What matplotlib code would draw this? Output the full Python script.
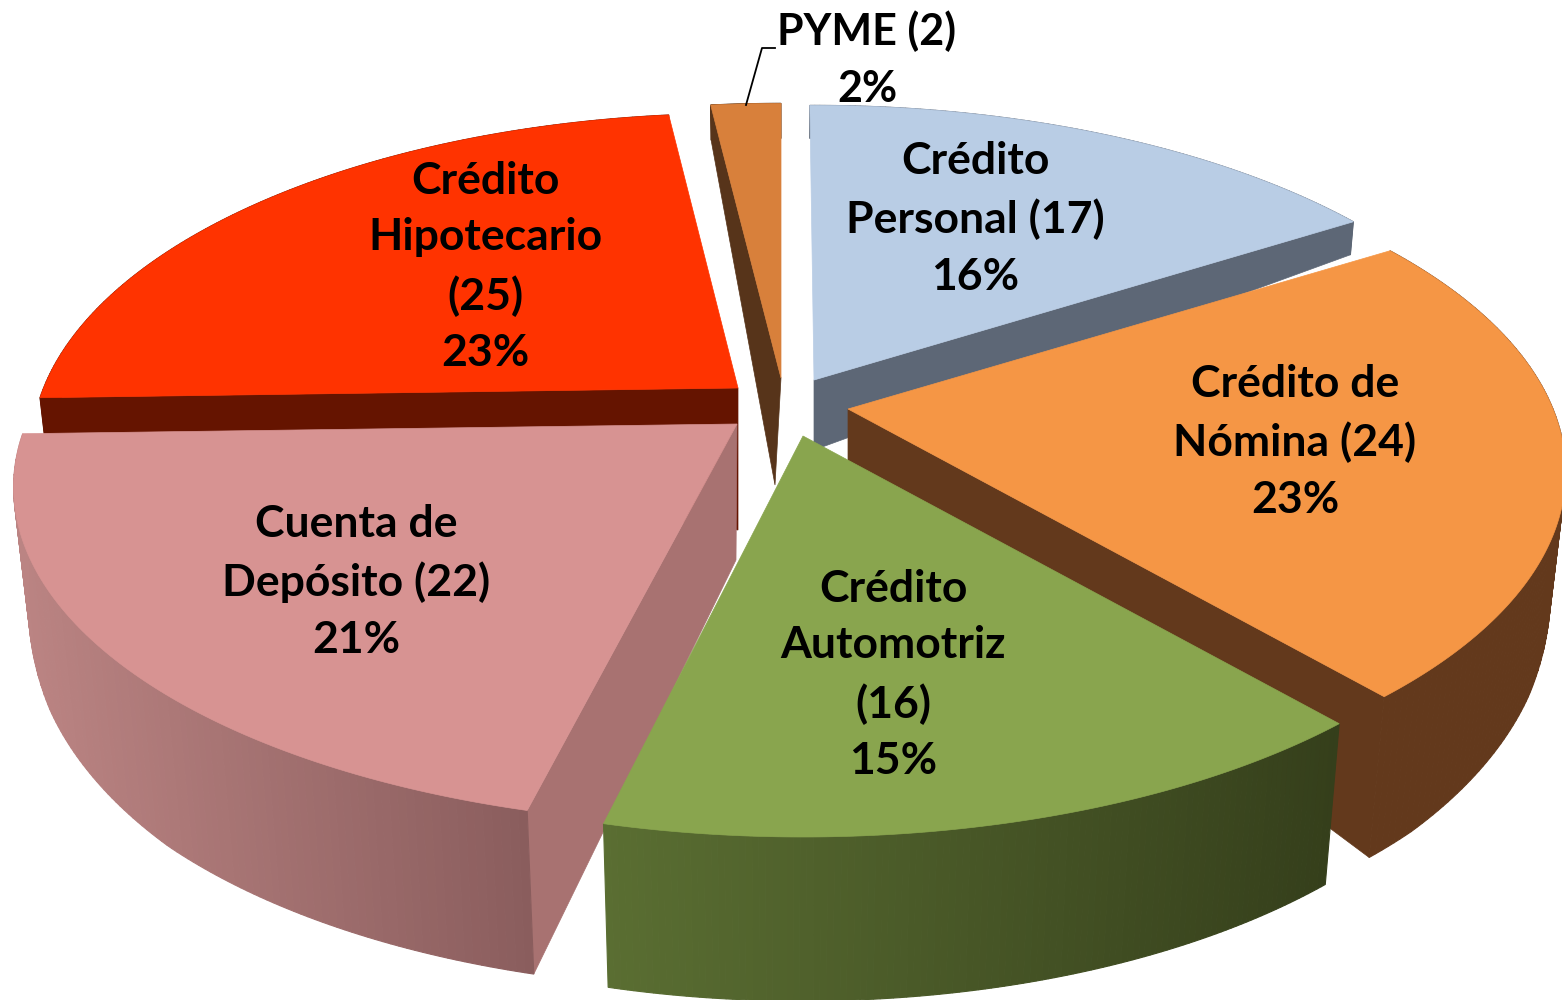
"""Pastel 3D de productos financieros"""
import numpy as np
import matplotlib.pyplot as plt
from matplotlib.colors import to_rgb

etiquetas = [
    "Crédito\nPersonal (17)\n16%",
    "Crédito de\nNómina (24)\n23%",
    "Crédito\nAutomotriz\n(16)\n15%",
    "Cuenta de\nDepósito (22)\n21%",
    "Crédito\nHipotecario\n(25)\n23%",
    "PYME (2)\n2%",
]
valores = [17, 24, 16, 22, 25, 2]

color_tapa = ["#b9cde5", "#f59645", "#89a54e", "#d79392", "#ff3300", "#d8803b"]
color_pared_izq = ["#5d6776", "#63391c", "#5a6e32", "#bb8483", "#651400", "#57341a"]
color_pared_der = ["#5d6776", "#63391c", "#353f1b", "#8a5d5d", "#651400", "#57341a"]
color_corte = ["#5d6776", "#63391c", "#353f1b", "#a87271", "#651400", "#57341a"]
# cara radial que se ve: 1 = borde final, 0 = borde inicial, None = ninguna
cara_visible = [1, 1, None, 0, 0, 0]
# separacion de cada rebanada respecto al centro, en pixeles
desplazamiento = [(29, -20), (63, 9), (18, 36), (-48, 24), (-47, -12), (-4, -22)]
escala = [0.995, 1.0, 1.0, 1.008, 0.985, 1.0]
# pequeno ajuste de los bordes de la rebanada, en grados
giro_ini = [-0.4, 0, 0, 0.4, 0, 0]
giro_fin = [0, 0, -0.2, 0, 0, 0]
pared_fija = [33, None, None, None, 37, 35]
prof_apice = [70, 60, 0, 136, 142, 107]
cae_apice_x = [0, 0, 0, -1, 0, -6]
orden = [5, 0, 4, 1, 3, 2]
pos_texto = [(975, 219), (1295, 442), (893, 675), (356, 582), (485, 267), (867, 60)]
tam_texto = [32, 32, 32, 32, 32, 31]

CX, CY = 785, 400
RX, RY = 705, 326
P = 0.187
V_PARED = [-1.0, -0.7, -0.4, -0.2, 0.0, 0.5, 1.0]
D_PARED = [164, 160, 145, 125, 90, 35, 33]

fig = plt.figure(figsize=(15.62, 10), dpi=100)
ax = fig.add_axes([0, 0, 1, 1])
ax.set_xlim(0, 1562)
ax.set_ylim(1000, 0)
ax.axis("off")

total = sum(valores)
limites = np.cumsum([0] + valores) / total * 2 * np.pi

for i in orden:
    ang = np.linspace(
        limites[i] + np.radians(giro_ini[i]), limites[i + 1] + np.radians(giro_fin[i]), 120
    )
    w = 1 + P * np.cos(ang)
    ax_c, ay_c = CX + desplazamiento[i][0], CY + desplazamiento[i][1]
    x = ax_c + escala[i] * RX * np.sin(ang) / w
    y = ay_c - RY * np.cos(ang) / w

    # pared exterior, con perspectiva hacia abajo
    if pared_fija[i] is None:
        d = np.interp(np.cos(ang), V_PARED, D_PARED)
    else:
        d = np.full(len(ang), pared_fija[i])
    xb = x - (x - CX) * 0.025 * d / 160
    yb = y + d
    axb, ayb = ax_c + cae_apice_x[i], ay_c + prof_apice[i]

    # cara radial
    if cara_visible[i] is not None:
        j = -1 if cara_visible[i] == 1 else 0
        ax.fill(
            [ax_c, x[j], xb[j], axb],
            [ay_c, y[j], yb[j], ayb],
            color=color_corte[i],
            lw=0.5,
        )

    # degradado horizontal de la pared
    izq, der = np.array(to_rgb(color_pared_izq[i])), np.array(to_rgb(color_pared_der[i]))
    xmin, xmax = x.min(), x.max()
    for k in range(len(ang) - 1):
        t = ((x[k] + x[k + 1]) / 2 - xmin) / max(xmax - xmin, 1)
        c = izq + (der - izq) * t
        ax.fill(
            [x[k], x[k + 1], xb[k + 1], xb[k]],
            [y[k], y[k + 1], yb[k + 1], yb[k]],
            color=c,
            lw=0.8,
        )

    # tapa
    ax.fill(np.r_[ax_c, x], np.r_[ay_c, y], color=color_tapa[i], lw=0.5)

# linea guia de PYME
ax.plot([746, 762, 775], [105, 48, 48], color="black", lw=1.3)

for i, texto in enumerate(etiquetas):
    ax.text(
        pos_texto[i][0],
        pos_texto[i][1],
        texto,
        ha="center",
        va="center",
        family="Lato",
        weight="bold",
        fontsize=tam_texto[i],
        linespacing=1.51,
        color="black",
    )

fig.savefig("out.png", dpi=100, facecolor="white")
